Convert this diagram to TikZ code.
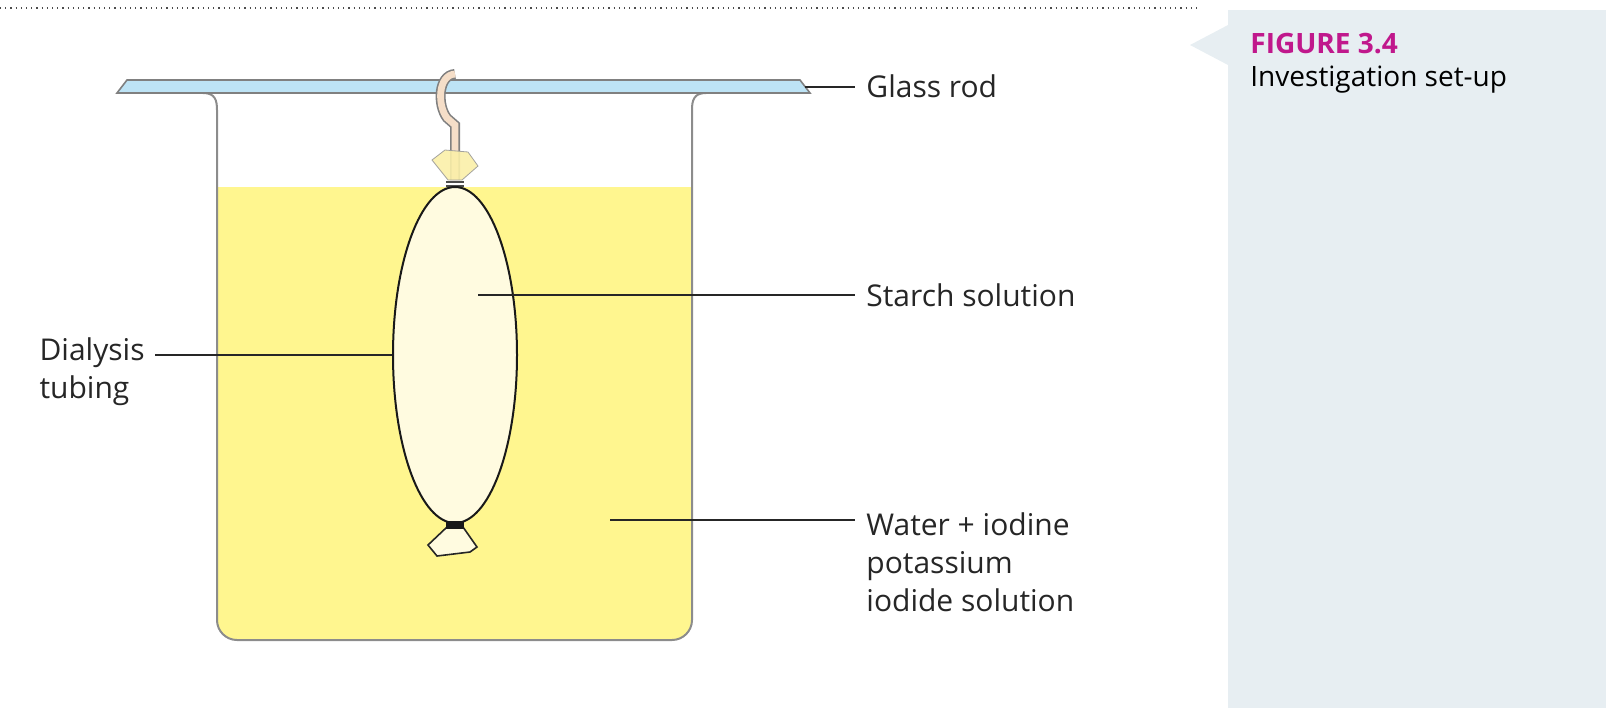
\documentclass[tikz,border=0pt]{standalone}
\usepackage{fontspec}
\setmainfont{Open Sans}
\usetikzlibrary{shapes.geometric}
\definecolor{rodblue}{HTML}{BDE3F5}
\definecolor{liquid}{HTML}{FFF68F}
\definecolor{starch}{HTML}{FFFBE0}
\definecolor{panel}{HTML}{E7EEF2}
\definecolor{figpink}{HTML}{C0188C}
\definecolor{knot}{HTML}{FBEFA8}
\definecolor{thread}{HTML}{F5DEC8}
\begin{document}
\begin{tikzpicture}[x=0.5pt,y=-0.5pt,
    label/.style={font=\fontsize{15}{19}\selectfont\color{black!85}, align=left, anchor=west, inner sep=0pt},
    pointer/.style={draw=black!85, line width=0.7pt}]
    \useasboundingbox (0,0) rectangle (1606,708);
    % caption panel
    \fill[panel] (1228,10) rectangle (1606,708);
    \fill[panel] (1228,25) -- (1190,45) -- (1228,65) -- cycle;
    \draw[black!70, dotted, line width=0.6pt] (0,8) -- (1200,8);
    \node[anchor=west, inner sep=0pt, text=figpink, font=\fontsize{14}{17}\bfseries\selectfont] (fig) at (1250,44) {FIGURE 3.4};
    \node[anchor=west, inner sep=0pt, font=\fontsize{14}{17}\selectfont] (cap) at (1250,80) {Investigation set-up};
    % liquid and beaker
    \fill[liquid] (217,187) -- (692,187) -- (692,620) arc[start angle=0, end angle=90, radius=20] -- (237,640)
        arc[start angle=90, end angle=180, radius=20] -- cycle;
    \draw[black!45, line width=1pt] (203,93) .. controls (215,93) and (217,100) .. (217,110) -- (217,620)
        arc[start angle=180, end angle=90, radius=20] -- (672,640)
        arc[start angle=90, end angle=0, radius=20] -- (692,110)
        .. controls (692,100) and (694,93) .. (706,93);
    % glass rod
    \draw[black!50, fill=rodblue, line width=0.8pt] (117,93) -- (127,80) -- (800,80) -- (810,93) -- cycle;
    % thread with hook
    \draw[black!50, line width=5pt] (455,180) -- (455,125) -- (447,118) .. controls (437,105) and (438,75) .. (455,74);
    \draw[thread, line width=3.4pt] (455,180) -- (455,125) -- (447,118) .. controls (437,105) and (438,75) .. (455,74);
    % top knot
    \draw[black!40, fill=knot, opacity=0.9] (448,180) -- (432,160) -- (445,150) -- (468,152) -- (478,166) -- (462,180) -- cycle;
    \draw[black!70, line width=1pt] (446,182) -- (464,182) (446,186) -- (464,186);
    % dialysis bag
    \node[draw=black!90, fill=starch, ellipse, minimum width=62pt, minimum height=168pt, inner sep=0pt, line width=1pt] (bag) at (455,355) {};
    % bottom knot
    \draw[black!85, fill=starch, line width=0.8pt] (447,527) -- (428,545) -- (437,556) -- (470,552) -- (477,547) -- (463,527) -- cycle;
    \draw[black!90, line width=2pt] (446,523) -- (464,523) (446,527) -- (464,527);
    % labels
    \node[label] (rod) at (866,86) {Glass rod};
    \node[label] (stch) at (866,295) {Starch solution};
    \node[label] (water) at (866,562) {Water + iodine\\potassium\\iodide solution};
    \node[label, anchor=east] (tube) at (145,372) {Dialysis\\tubing};
    \coordinate (rodend) at (805,87);
    \coordinate (stchend) at (478,295);
    \coordinate (waterend) at (610,520);
    \coordinate (tubeend) at (155,355);
    \draw[pointer] (rodend) -- (855,87);
    \draw[pointer] (stchend) -- (855,295);
    \draw[pointer] (waterend) -- (855,520);
    \draw[pointer] (tubeend) -- (bag.west);
\end{tikzpicture}
\end{document}
